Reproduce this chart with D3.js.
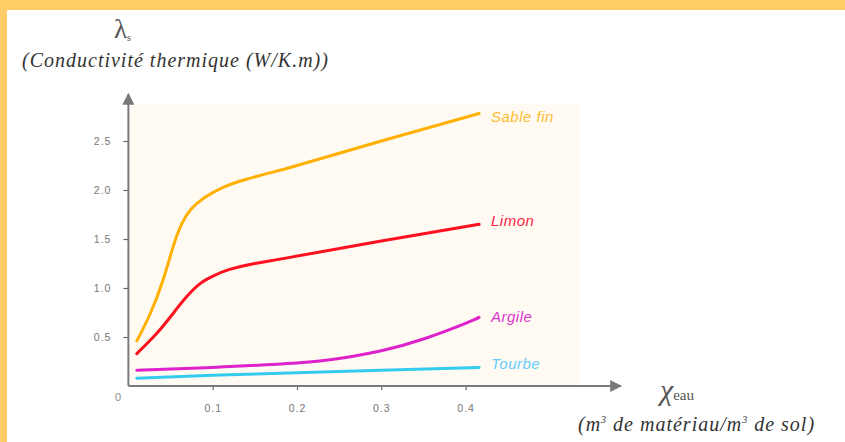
<!DOCTYPE html>
<html><head><meta charset="utf-8">
<script src="https://cdn.jsdelivr.net/npm/d3@7/dist/d3.min.js"></script>
<style>html,body{margin:0;padding:0;background:#fff;overflow:hidden}</style>
</head><body>
<svg id="c" width="845" height="442"></svg>
<script>
// ---- data ----
const seriesNames = ["Sable fin", "Limon", "Argile", "Tourbe"];
const xSable = [0.01, 0.026, 0.041, 0.053, 0.063, 0.074, 0.09, 0.113, 0.14, 0.17, 0.2, 0.3, 0.416];
const ySable = [0.46, 0.74, 1.08, 1.42, 1.65, 1.80, 1.92, 2.03, 2.11, 2.18, 2.25, 2.50, 2.78];
const xLimon = [0.01, 0.034, 0.053, 0.069, 0.085, 0.1, 0.12, 0.15, 0.19, 0.3, 0.416];
const yLimon = [0.33, 0.54, 0.74, 0.91, 1.045, 1.12, 1.19, 1.25, 1.31, 1.48, 1.65];
const xArgile = [0.01, 0.1, 0.2, 0.25, 0.3, 0.35, 0.4, 0.416];
const yArgile = [0.16, 0.19, 0.235, 0.28, 0.36, 0.48, 0.64, 0.70];
const xTourbe = [0.01, 0.1, 0.2, 0.3, 0.416];
const yTourbe = [0.08, 0.11, 0.135, 0.16, 0.19];
const xTicks = [0.1, 0.2, 0.3, 0.4];
const yTicks = [0.5, 1.0, 1.5, 2.0, 2.5];

const colors = ["#ffb000", "#ff1020", "#dd22cc", "#33ccee"];
const labelColors = ["#ffbb33", "#ff2244", "#dd33cc", "#66ccff"];
const labelDy = [8, 2, 5, 2];

const svg = d3.select("#c");
// frame
svg.append("rect").attr("x",0).attr("y",0).attr("width",845).attr("height",10).attr("fill","#ffcc66");
svg.append("rect").attr("x",0).attr("y",0).attr("width",7).attr("height",442).attr("fill","#ffcc66");

const x = d3.scaleLinear().domain([0, 0.4]).range([128.4, 465.6]);
const y = d3.scaleLinear().domain([0, 2.5]).range([386, 141]);

// plot background
svg.append("rect").attr("x", x(0)+2).attr("y", 103).attr("width", 580 - x(0) - 2).attr("height", y(0) - 103 - 1)
  .attr("fill", "#fffbf3");

// arrow marker
const defs = svg.append("defs");
defs.append("marker").attr("id","arr").attr("viewBox","0 0 10 10").attr("refX",9).attr("refY",5)
  .attr("markerWidth",6).attr("markerHeight",6).attr("markerUnits","strokeWidth").attr("orient","auto")
  .append("path").attr("d","M0,0 L10,5 L0,10 Z").attr("fill","#7a7a7a");

// axes
const axY = svg.append("g").attr("transform", `translate(${x(0)},0)`)
  .call(d3.axisLeft(y).tickValues(yTicks).tickSize(5).tickPadding(12).tickFormat(d3.format(".1f")));
const axX = svg.append("g").attr("transform", `translate(0,${y(0)})`)
  .call(d3.axisBottom(x).tickValues(xTicks).tickSize(4).tickPadding(15).tickFormat(d => d3.format(".1f")(d)));
[axY, axX].forEach(g => {
  g.select(".domain").remove();
  g.selectAll(".tick line").attr("stroke","#666").attr("stroke-width",1.2);
  g.selectAll(".tick text").attr("fill","#777").style("font-family","Liberation Sans, Arial").style("font-size","10.5px")
    .style("letter-spacing","1px");
});
svg.append("line").attr("x1", x(0)).attr("y1", y(0)).attr("x2", x(0)).attr("y2", 94)
  .attr("stroke","#7a7a7a").attr("stroke-width",2).attr("marker-end","url(#arr)");
svg.append("line").attr("x1", x(0)).attr("y1", y(0)).attr("x2", 621).attr("y2", y(0))
  .attr("stroke","#7a7a7a").attr("stroke-width",2).attr("marker-end","url(#arr)");
svg.append("text").attr("x", 118).attr("y", 401).attr("text-anchor","middle").attr("fill","#888")
  .style("font-family","Liberation Sans, Arial").style("font-size","11px").text("0");

// curves
const xs = [xSable, xLimon, xArgile, xTourbe];
const ys = [ySable, yLimon, yArgile, yTourbe];
const line = d3.line().x(d => x(d[0])).y(d => y(d[1])).curve(d3.curveNatural);
xs.forEach((xa, i) => {
  const pts = xa.map((v, j) => [v, ys[i][j]]);
  svg.append("path").attr("d", line(pts)).attr("fill","none").attr("stroke", colors[i])
    .attr("stroke-width", 3).attr("stroke-linecap","round");
  const last = pts[pts.length - 1];
  svg.append("text").attr("x", 491).attr("y", y(last[1]) + labelDy[i])
    .attr("fill", labelColors[i]).style("font-family","Liberation Sans, Arial").style("font-style","italic")
    .style("font-size","15px").style("letter-spacing","0.5px").text(seriesNames[i]);
});

// titles
const serif = "Liberation Serif, Times New Roman, serif";
const t1 = svg.append("text").attr("x", 114).attr("y", 38).attr("fill","#555").style("font-family", serif).style("font-size","27px");
t1.append("tspan").text("λ");
t1.append("tspan").attr("dy", 3).style("font-size","10px").text("s");
svg.append("text").attr("x", 22).attr("y", 67).attr("fill","#333").style("font-family", serif)
  .style("font-style","italic").style("font-size","20px").style("letter-spacing","1px").text("(Conductivité thermique (W/K.m))");

const t2 = svg.append("text").attr("x", 660).attr("y", 400).attr("fill","#555").style("font-family", serif).style("font-size","30px");
t2.append("tspan").style("font-style","italic").text("χ");
t2.append("tspan").style("font-size","15px").text("eau");
const t3 = svg.append("text").attr("x", 578).attr("y", 431).attr("fill","#333").style("font-family", serif)
  .style("font-style","italic").style("font-size","20px").style("letter-spacing","1px");
t3.append("tspan").text("(m");
t3.append("tspan").attr("dy",-8).style("font-size","10px").text("3");
t3.append("tspan").attr("dy",8).text(" de matériau/m");
t3.append("tspan").attr("dy",-8).style("font-size","10px").text("3");
t3.append("tspan").attr("dy",8).text(" de sol)");
</script>
</body></html>
